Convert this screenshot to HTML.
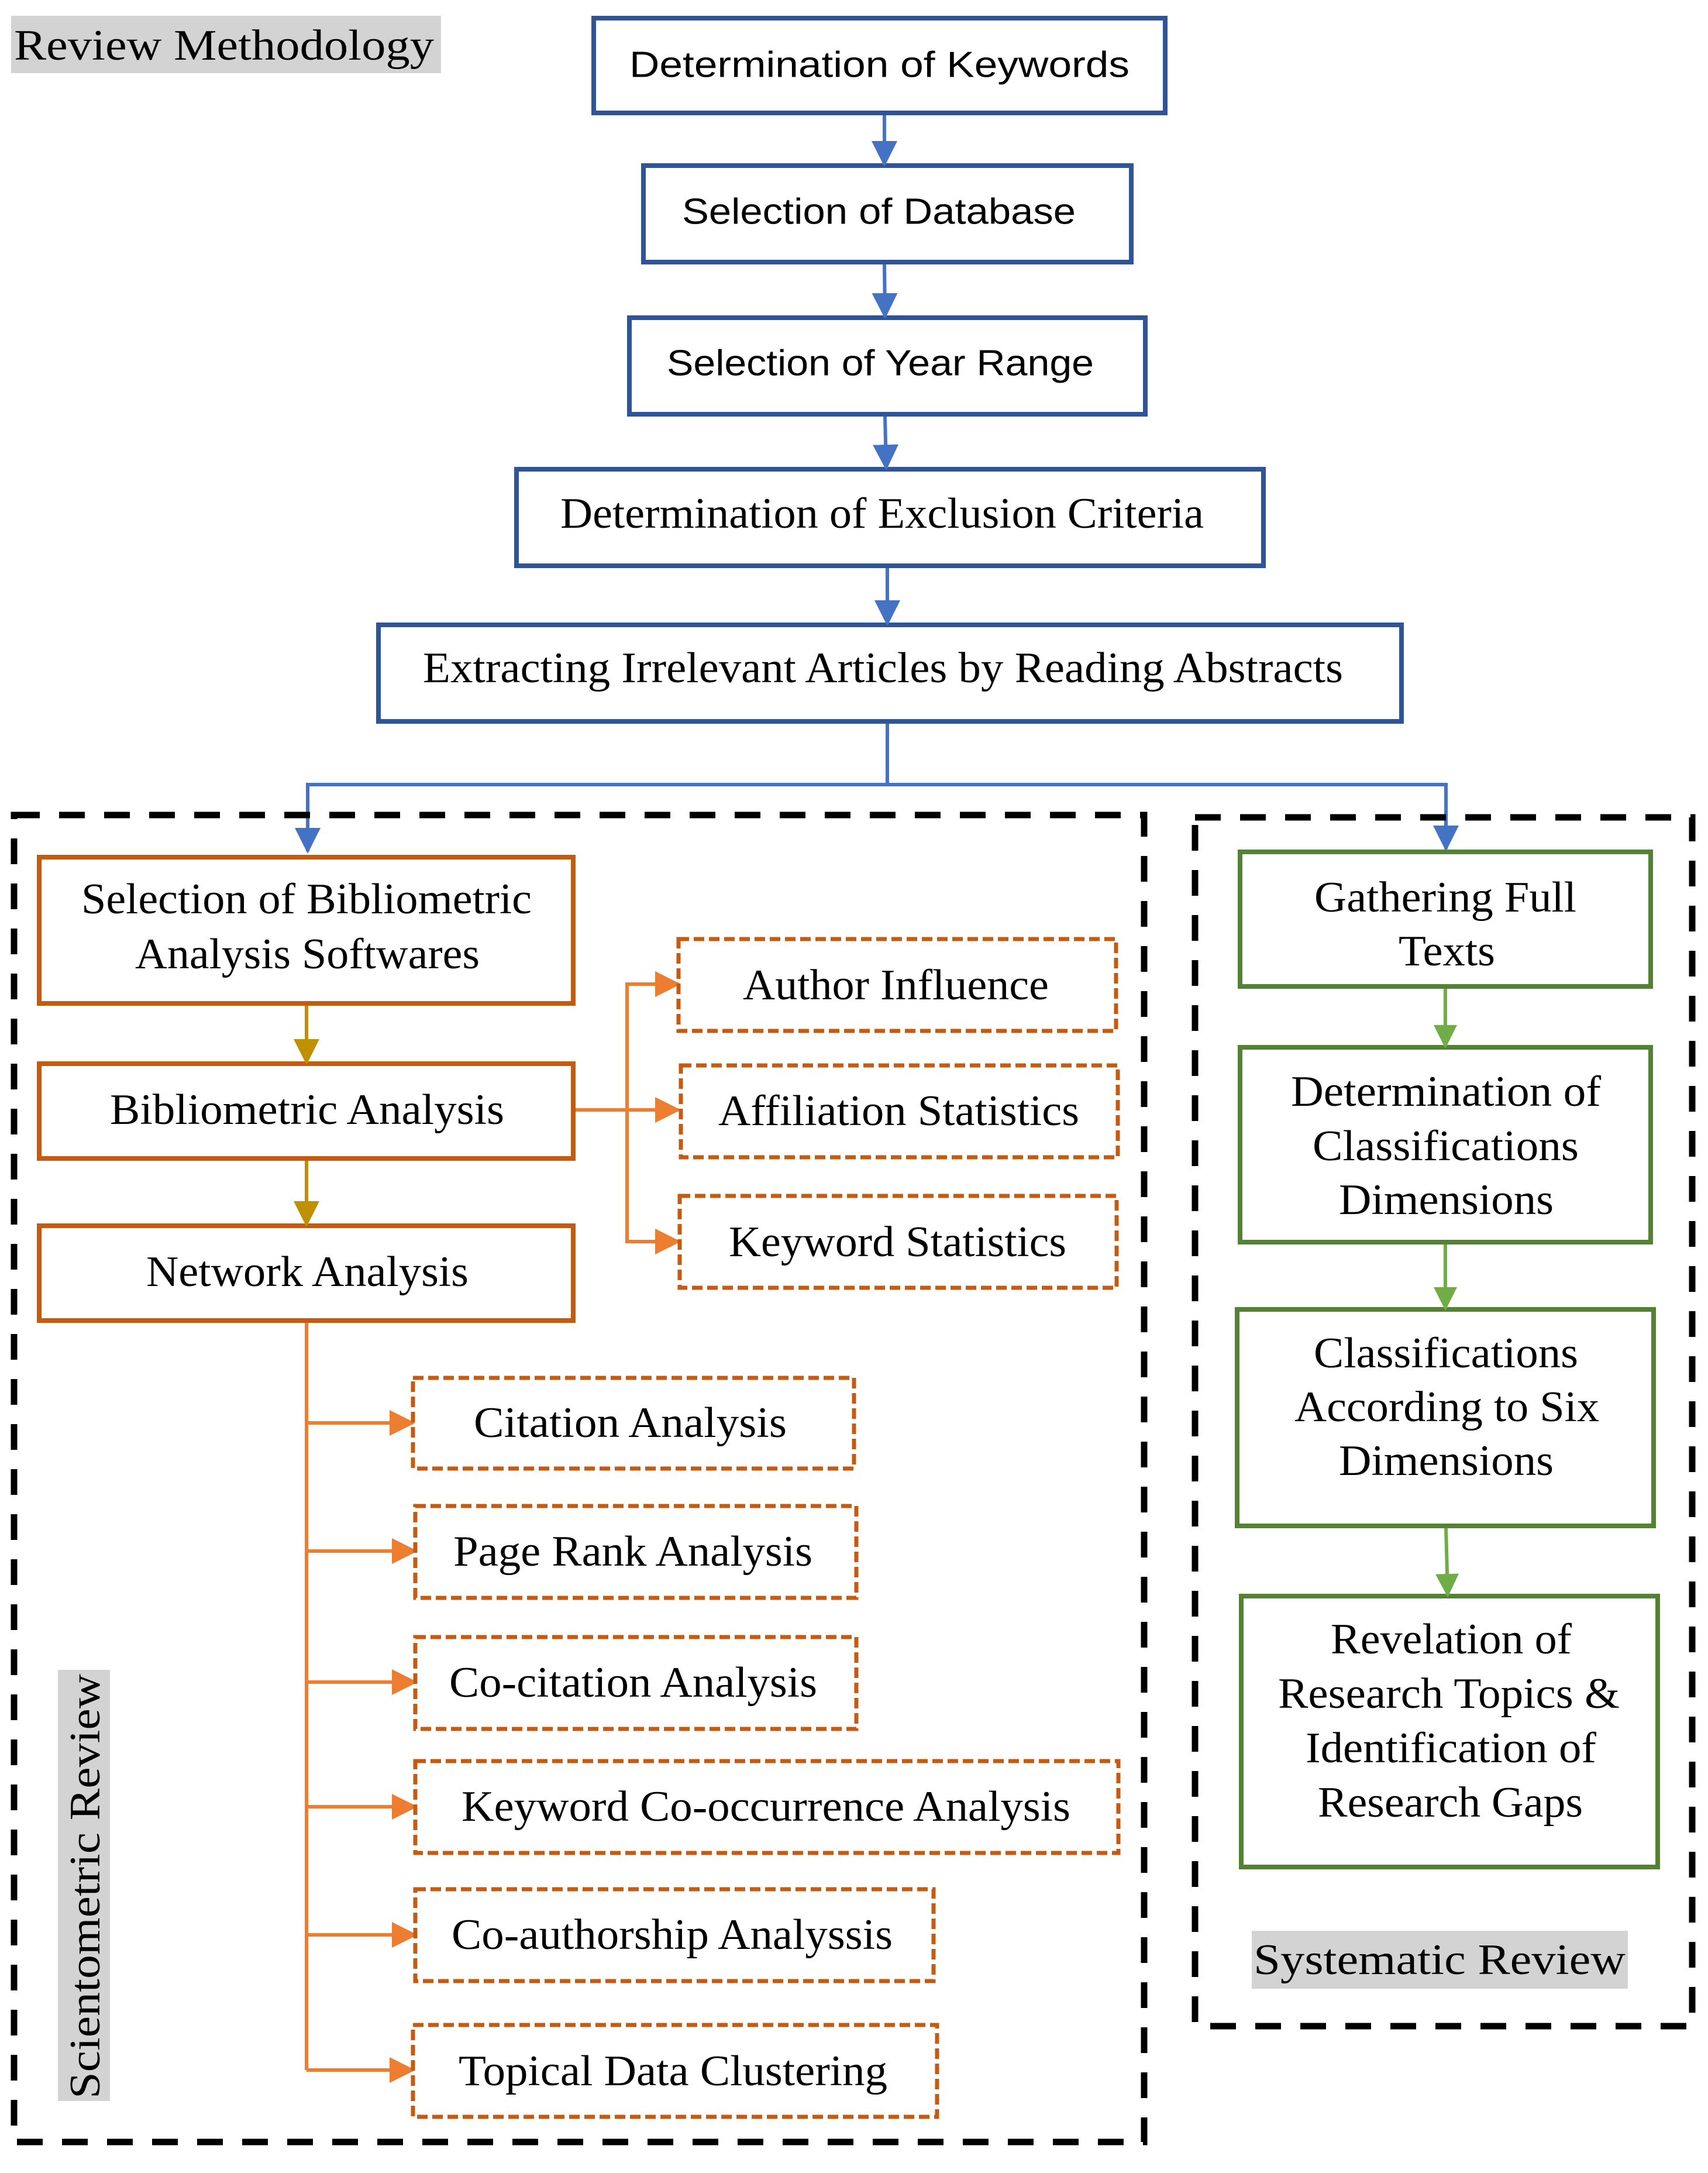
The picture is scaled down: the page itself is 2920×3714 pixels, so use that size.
<!DOCTYPE html>
<html><head><meta charset="utf-8"><style>html,body{margin:0;padding:0;background:#fff}svg{display:block}</style></head>
<body>
<svg width="2920" height="3714" viewBox="0 0 2920 3714" xmlns="http://www.w3.org/2000/svg">
<defs>
<marker id="ab" markerUnits="userSpaceOnUse" markerWidth="44" markerHeight="44" refX="40" refY="22" orient="auto"><path d="M0,0 L44,22 L0,44 Z" fill="#4472C4"/></marker>
<marker id="ag" markerUnits="userSpaceOnUse" markerWidth="44" markerHeight="44" refX="40" refY="22" orient="auto"><path d="M0,0 L44,22 L0,44 Z" fill="#BF9000"/></marker>
<marker id="ao" markerUnits="userSpaceOnUse" markerWidth="44" markerHeight="44" refX="40" refY="22" orient="auto"><path d="M0,0 L44,22 L0,44 Z" fill="#ED7D31"/></marker>
<marker id="ar" markerUnits="userSpaceOnUse" markerWidth="40" markerHeight="40" refX="36" refY="20" orient="auto"><path d="M0,0 L40,20 L0,40 Z" fill="#70AD47"/></marker>
</defs>
<style>
.s{font-family:"Liberation Sans",sans-serif;font-size:62px;fill:#000}
.r{font-family:"Liberation Serif",serif;font-size:74px;fill:#000}
</style>

<rect x="19" y="27" width="735" height="98" fill="#d3d3d3"/>
<text class="r" x="24" y="78" dominant-baseline="central" textLength="718" lengthAdjust="spacingAndGlyphs">Review Methodology</text>

<g fill="none" stroke="#2F5597" stroke-width="8">
<rect x="1015" y="31" width="977" height="162"/>
<rect x="1100" y="283" width="834" height="165"/>
<rect x="1076" y="543" width="882" height="165"/>
<rect x="883" y="802" width="1277" height="165"/>
<rect x="647" y="1068" width="1749" height="165"/>
</g>
<text class="s" x="1076" y="111" dominant-baseline="central" textLength="855" lengthAdjust="spacingAndGlyphs">Determination of Keywords</text>
<text class="s" x="1166" y="362" dominant-baseline="central" textLength="673" lengthAdjust="spacingAndGlyphs">Selection of Database</text>
<text class="s" x="1140" y="621" dominant-baseline="central" textLength="730" lengthAdjust="spacingAndGlyphs">Selection of Year Range</text>
<text class="r" x="958" y="878" dominant-baseline="central" textLength="1100" lengthAdjust="spacingAndGlyphs">Determination of Exclusion Criteria</text>
<text class="r" x="723" y="1142" dominant-baseline="central" textLength="1573" lengthAdjust="spacingAndGlyphs">Extracting Irrelevant Articles by Reading Abstracts</text>

<g fill="none" stroke="#4472C4" stroke-width="6">
<line x1="1512" y1="197" x2="1512" y2="281" marker-end="url(#ab)"/>
<line x1="1512" y1="452" x2="1513" y2="541" marker-end="url(#ab)"/>
<line x1="1513" y1="712" x2="1515" y2="800" marker-end="url(#ab)"/>
<line x1="1517" y1="971" x2="1517" y2="1066" marker-end="url(#ab)"/>
<polyline points="1517,1237 1517,1341 526,1341 526,1455" marker-end="url(#ab)"/>
<polyline points="1517,1341 2472,1341 2472,1451" marker-end="url(#ab)"/>
</g>

<g fill="none" stroke="#000" stroke-width="11" stroke-dasharray="44 33">
<rect x="24" y="1393" width="1932" height="2268"/>
<rect x="2043" y="1397" width="850" height="2066"/>
</g>

<g fill="#fff" stroke="#C55A11" stroke-width="8">
<rect x="67" y="1465" width="913" height="250"/>
<rect x="67" y="1818" width="913" height="162"/>
<rect x="67" y="2095" width="913" height="162"/>
</g>
<text class="r" x="139" y="1537" dominant-baseline="central" textLength="770" lengthAdjust="spacingAndGlyphs">Selection of Bibliometric</text>
<text class="r" x="231" y="1631" dominant-baseline="central" textLength="589" lengthAdjust="spacingAndGlyphs">Analysis Softwares</text>
<text class="r" x="188" y="1897" dominant-baseline="central" textLength="674" lengthAdjust="spacingAndGlyphs">Bibliometric Analysis</text>
<text class="r" x="250" y="2174" dominant-baseline="central" textLength="551" lengthAdjust="spacingAndGlyphs">Network Analysis</text>

<g stroke="#BF9000" stroke-width="6" fill="none">
<line x1="524" y1="1719" x2="524" y2="1816" marker-end="url(#ag)"/>
<line x1="524" y1="1984" x2="524" y2="2093" marker-end="url(#ag)"/>
</g>

<g stroke="#ED7D31" stroke-width="6" fill="none">
<line x1="984" y1="1897" x2="1160" y2="1897" marker-end="url(#ao)"/>
<polyline points="1160,1682 1072,1682 1072,2122 1160,2122" />
<line x1="1072" y1="1682" x2="1160" y2="1682" marker-end="url(#ao)"/>
<line x1="1072" y1="2122" x2="1160" y2="2122" marker-end="url(#ao)"/>
<line x1="524" y1="2261" x2="524" y2="3538"/>
<line x1="524" y1="2432" x2="706" y2="2432" marker-end="url(#ao)"/>
<line x1="524" y1="2651" x2="710" y2="2651" marker-end="url(#ao)"/>
<line x1="524" y1="2875" x2="710" y2="2875" marker-end="url(#ao)"/>
<line x1="524" y1="3088" x2="710" y2="3088" marker-end="url(#ao)"/>
<line x1="524" y1="3307" x2="710" y2="3307" marker-end="url(#ao)"/>
<line x1="524" y1="3538" x2="706" y2="3538" marker-end="url(#ao)"/>
</g>

<g fill="none" stroke="#C55A11" stroke-width="7" stroke-dasharray="18 8">
<rect x="1160" y="1605" width="748" height="157"/>
<rect x="1164" y="1821" width="747" height="157"/>
<rect x="1162" y="2044" width="747" height="157"/>
<rect x="706" y="2355" width="754" height="155"/>
<rect x="710" y="2574" width="754" height="157"/>
<rect x="710" y="2798" width="754" height="157"/>
<rect x="710" y="3010" width="1202" height="157"/>
<rect x="710" y="3229" width="886" height="157"/>
<rect x="706" y="3461" width="896" height="157"/>
</g>
<text class="r" x="1270" y="1684" dominant-baseline="central" textLength="523" lengthAdjust="spacingAndGlyphs">Author Influence</text>
<text class="r" x="1228" y="1899" dominant-baseline="central" textLength="617" lengthAdjust="spacingAndGlyphs">Affiliation Statistics</text>
<text class="r" x="1246" y="2123" dominant-baseline="central" textLength="577" lengthAdjust="spacingAndGlyphs">Keyword Statistics</text>
<text class="r" x="810" y="2432" dominant-baseline="central" textLength="535" lengthAdjust="spacingAndGlyphs">Citation Analysis</text>
<text class="r" x="775" y="2652" dominant-baseline="central" textLength="614" lengthAdjust="spacingAndGlyphs">Page Rank Analysis</text>
<text class="r" x="768" y="2876" dominant-baseline="central" textLength="629" lengthAdjust="spacingAndGlyphs">Co-citation Analysis</text>
<text class="r" x="789" y="3088" dominant-baseline="central" textLength="1041" lengthAdjust="spacingAndGlyphs">Keyword Co-occurrence Analysis</text>
<text class="r" x="772" y="3307" dominant-baseline="central" textLength="754" lengthAdjust="spacingAndGlyphs">Co-authorship Analyssis</text>
<text class="r" x="784" y="3540" dominant-baseline="central" textLength="733" lengthAdjust="spacingAndGlyphs">Topical Data Clustering</text>

<rect x="99" y="2854" width="89" height="737" fill="#d3d3d3"/>
<text class="r" transform="translate(146,3587) rotate(-90)" x="0" y="0" dominant-baseline="central" textLength="726" lengthAdjust="spacingAndGlyphs">Scientometric Review</text>

<g fill="none" stroke="#548235" stroke-width="8">
<rect x="2120" y="1456" width="702" height="230"/>
<rect x="2120" y="1790" width="702" height="333"/>
<rect x="2115" y="2238" width="712" height="370"/>
<rect x="2122" y="2728" width="712" height="463"/>
</g>
<g stroke="#70AD47" stroke-width="6" fill="none">
<line x1="2471" y1="1690" x2="2471" y2="1788" marker-end="url(#ar)"/>
<line x1="2471" y1="2127" x2="2471" y2="2236" marker-end="url(#ar)"/>
<line x1="2472" y1="2612" x2="2475" y2="2726" marker-end="url(#ar)"/>
</g>
<text class="r" x="2247" y="1534" dominant-baseline="central" textLength="448" lengthAdjust="spacingAndGlyphs">Gathering Full</text>
<text class="r" x="2391" y="1626" dominant-baseline="central" textLength="165" lengthAdjust="spacingAndGlyphs">Texts</text>
<text class="r" x="2207" y="1866" dominant-baseline="central" textLength="530" lengthAdjust="spacingAndGlyphs">Determination of</text>
<text class="r" x="2244" y="1959" dominant-baseline="central" textLength="455" lengthAdjust="spacingAndGlyphs">Classifications</text>
<text class="r" x="2289" y="2051" dominant-baseline="central" textLength="367" lengthAdjust="spacingAndGlyphs">Dimensions</text>
<text class="r" x="2246" y="2313" dominant-baseline="central" textLength="452" lengthAdjust="spacingAndGlyphs">Classifications</text>
<text class="r" x="2213" y="2405" dominant-baseline="central" textLength="521" lengthAdjust="spacingAndGlyphs">According to Six</text>
<text class="r" x="2289" y="2497" dominant-baseline="central" textLength="367" lengthAdjust="spacingAndGlyphs">Dimensions</text>
<text class="r" x="2275" y="2802" dominant-baseline="central" textLength="412" lengthAdjust="spacingAndGlyphs">Revelation of</text>
<text class="r" x="2185" y="2895" dominant-baseline="central" textLength="584" lengthAdjust="spacingAndGlyphs">Research Topics &amp;</text>
<text class="r" x="2232" y="2988" dominant-baseline="central" textLength="497" lengthAdjust="spacingAndGlyphs">Identification of</text>
<text class="r" x="2253" y="3081" dominant-baseline="central" textLength="453" lengthAdjust="spacingAndGlyphs">Research Gaps</text>

<rect x="2140" y="3300" width="643" height="99" fill="#d3d3d3"/>
<text class="r" x="2143" y="3350" dominant-baseline="central" textLength="636" lengthAdjust="spacingAndGlyphs">Systematic Review</text>
</svg>
</body></html>
